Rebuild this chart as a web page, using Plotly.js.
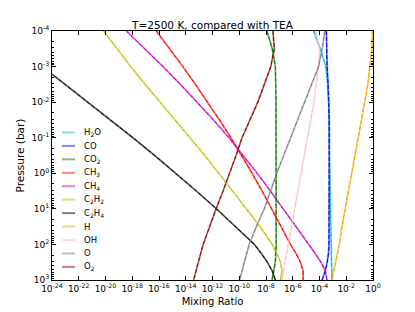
<!DOCTYPE html>
<html><head><meta charset="utf-8">
<script src="https://cdn.plot.ly/plotly-3.0.1.min.js"></script>
<style>html,body{margin:0;padding:0;background:#fff}#chart{width:415px;height:312px}</style>
</head><body><div id="chart"></div>
<script>
// Pressure levels (bar)
const pressure = [1e-4, 3.16e-4, 1e-3, 3.16e-3, 1e-2, 3.16e-2, 0.1, 0.316, 1, 3.16, 10, 31.6, 100, 178, 316, 562, 1000];

// Mixing ratios at each pressure level
const H2O  = [3.63e-5, 1.15e-4, 2.95e-4, 4.17e-4, 5.01e-4, 5.37e-4, 5.75e-4, 5.82e-4, 5.89e-4, 6.17e-4, 6.46e-4, 6.68e-4, 6.92e-4, 7.24e-4, 7.59e-4, 7.94e-4, 8.51e-4];
const CO   = [3.24e-4, 3.39e-4, 3.72e-4, 4.37e-4, 5.01e-4, 5.37e-4, 5.37e-4, 5.37e-4, 5.37e-4, 5.37e-4, 5.37e-4, 5.37e-4, 5.13e-4, 4.68e-4, 3.80e-4, 2.69e-4, 1.55e-4];
const CO2  = [1.17e-8, 2.95e-8, 5.01e-8, 5.62e-8, 5.62e-8, 5.62e-8, 5.75e-8, 5.75e-8, 5.75e-8, 5.75e-8, 5.75e-8, 5.75e-8, 5.75e-8, 5.62e-8, 5.01e-8, 3.80e-8, 2.82e-8];
const CH3  = [6.31e-17, 6.31e-16, 6.03e-15, 5.25e-14, 4.27e-13, 3.31e-12, 2.40e-11, 1.55e-10, 9.12e-10, 5.13e-9, 2.75e-8, 1.35e-7, 6.76e-7, 1.74e-6, 3.72e-6, 6.03e-6, 5.89e-6];
const CH4  = [3.63e-19, 8.91e-18, 2.00e-16, 3.98e-15, 7.24e-14, 1.17e-12, 1.70e-11, 2.09e-10, 2.19e-9, 2.14e-8, 2.04e-7, 1.91e-6, 1.58e-5, 4.68e-5, 1.29e-4, 2.75e-4, 3.63e-4];
const C2H2 = [7.24e-21, 7.08e-20, 7.59e-19, 9.33e-18, 1.26e-16, 1.74e-15, 2.29e-14, 2.69e-13, 2.95e-12, 3.24e-11, 3.55e-10, 3.63e-9, 2.95e-8, 6.46e-8, 1.23e-7, 1.58e-7, 1.17e-7];
const C2H4 = [7.94e-29, 3.98e-27, 2.00e-25, 1.00e-23, 5.01e-22, 2.40e-20, 1.12e-18, 4.79e-17, 1.82e-15, 6.31e-14, 2.00e-12, 5.62e-11, 1.35e-9, 4.37e-9, 1.26e-8, 2.95e-8, 5.01e-8];
const H    = [0.912, 0.813, 0.603, 0.407, 0.240, 0.135, 0.0776, 0.0457, 0.0269, 0.0148, 7.94e-3, 4.79e-3, 3.02e-3, 2.19e-3, 1.58e-3, 1.17e-3, 8.51e-4];
const OH   = [4.90e-5, 1.05e-4, 8.13e-5, 5.75e-5, 3.80e-5, 2.19e-5, 1.26e-5, 7.24e-6, 4.17e-6, 2.29e-6, 1.23e-6, 7.08e-7, 4.37e-7, 3.39e-7, 2.57e-7, 2.00e-7, 1.58e-7];
const O    = [2.51e-4, 1.58e-4, 8.51e-5, 2.63e-5, 7.76e-6, 2.24e-6, 6.76e-7, 2.09e-7, 6.31e-8, 2.19e-8, 7.41e-9, 1.91e-9, 5.50e-10, 3.63e-10, 2.40e-10, 1.58e-10, 1.07e-10];
const O2   = [3.31e-8, 4.17e-8, 2.29e-8, 7.41e-9, 2.45e-9, 6.31e-10, 1.62e-10, 5.75e-11, 2.00e-11, 6.17e-12, 1.86e-12, 5.89e-13, 2.00e-13, 1.32e-13, 8.71e-14, 5.75e-14, 3.89e-14];

const speciesNames = ['H<sub>2</sub>O', 'CO', 'CO<sub>2</sub>', 'CH<sub>3</sub>', 'CH<sub>4</sub>', 'C<sub>2</sub>H<sub>2</sub>', 'C<sub>2</sub>H<sub>4</sub>', 'H', 'OH', 'O', 'O<sub>2</sub>'];
const speciesData  = [H2O, CO, CO2, CH3, CH4, C2H2, C2H4, H, OH, O, O2];
const speciesColors = ['#00bfbf', '#0000ff', '#008000', '#ff0000', '#bf00bf', '#bfbf00', '#000000', '#ffa500', '#ffc0cb', '#808080', '#8b0000'];

// Tick labels
const xTickVals = [1e-24, 1e-22, 1e-20, 1e-18, 1e-16, 1e-14, 1e-12, 1e-10, 1e-8, 1e-6, 1e-4, 1e-2, 1];
const xTickText = ['10<sup>-24</sup>', '10<sup>-22</sup>', '10<sup>-20</sup>', '10<sup>-18</sup>', '10<sup>-16</sup>', '10<sup>-14</sup>', '10<sup>-12</sup>', '10<sup>-10</sup>', '10<sup>-8</sup>', '10<sup>-6</sup>', '10<sup>-4</sup>', '10<sup>-2</sup>', '10<sup>0</sup>'];
const yTickVals = [1e-4, 1e-3, 1e-2, 1e-1, 1, 10, 100, 1000];
const yTickText = ['10<sup>-4</sup>', '10<sup>-3</sup>', '10<sup>-2</sup>', '10<sup>-1</sup>', '10<sup>0</sup>', '10<sup>1</sup>', '10<sup>2</sup>', '10<sup>3</sup>'];

const yMinor = [];
for (let e = -4; e < 3; e++) for (let m = 2; m <= 9; m++) yMinor.push(m * Math.pow(10, e));

function hexToRgba(hex, a) {
  const n = parseInt(hex.slice(1), 16);
  return 'rgba(' + ((n >> 16) & 255) + ',' + ((n >> 8) & 255) + ',' + (n & 255) + ',' + a + ')';
}

const traces = [];
speciesData.forEach((vals, i) => {
  traces.push({x: vals, y: pressure, mode: 'lines', type: 'scatter', showlegend: false, hoverinfo: 'skip',
    line: {color: hexToRgba(speciesColors[i], 0.6), width: 1.7}});
});
speciesData.forEach((vals, i) => {
  traces.push({x: vals, y: pressure, mode: 'lines', type: 'scatter', showlegend: false, hoverinfo: 'skip',
    line: {color: speciesColors[i], width: 1, dash: '4px,2px'}});
});

// Legend drawn as annotations + line samples (paper coordinates)
const shapes = [], annotations = [];
const legTop = 0.5926, legStep = 0.054;
speciesNames.forEach((name, i) => {
  const yy = legTop - i * legStep;
  shapes.push({type: 'line', xref: 'paper', yref: 'paper', x0: 0.031, x1: 0.072, y0: yy, y1: yy,
    line: {color: hexToRgba(speciesColors[i], 0.5), width: 2}});
  annotations.push({xref: 'paper', yref: 'paper', x: 0.095, y: yy, xanchor: 'left', yanchor: 'middle',
    text: name, showarrow: false, font: {size: 8.5, family: 'DejaVu Sans', color: '#000'}});
});

const axisCommon = {
  type: 'log', tickmode: 'array', ticks: 'inside', ticklen: 4, tickwidth: 1, tickcolor: '#000',
  mirror: 'allticks', showline: true, linecolor: '#000', linewidth: 1, showgrid: false, zeroline: false,
  tickfont: {size: 9, family: 'DejaVu Sans', color: '#000'}
};

const layout = {
  width: 415, height: 312,
  margin: {l: 52, r: 42, t: 31, b: 32},
  paper_bgcolor: '#fff', plot_bgcolor: '#fff',
  font: {family: 'DejaVu Sans', color: '#000'},
  title: {text: 'T=2500 K, compared with TEA', font: {size: 10.5, family: 'DejaVu Sans', color: '#000'},
    x: 0.5, xref: 'paper', xanchor: 'center', y: 0.918, yref: 'container', yanchor: 'middle'},
  xaxis: Object.assign({}, axisCommon, {range: [-24, 0], tickvals: xTickVals, ticktext: xTickText,
    title: {text: 'Mixing Ratio', font: {size: 10, family: 'DejaVu Sans', color: '#000'}, standoff: 5}}),
  yaxis: Object.assign({}, axisCommon, {range: [3, -4], tickvals: yTickVals, ticktext: yTickText,
    minor: {tickmode: 'array', tickvals: yMinor, ticks: 'inside', ticklen: 2, tickcolor: '#000', showgrid: false},
    title: {text: 'Pressure (bar)', font: {size: 10.5, family: 'DejaVu Sans', color: '#000'}, standoff: 4}}),
  shapes: shapes, annotations: annotations, showlegend: false
};

Plotly.newPlot('chart', traces, layout, {staticPlot: true, displayModeBar: false});
</script>
</body></html>
